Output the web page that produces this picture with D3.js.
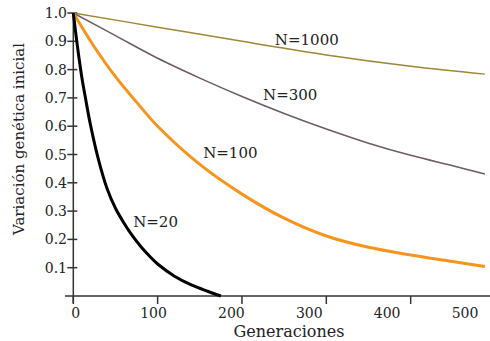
<!DOCTYPE html>
<html>
<head>
<meta charset="utf-8">
<script src="https://cdn.jsdelivr.net/npm/d3@7"></script>
<style>
  body { margin: 0; background: #fff; }
  text { font-family: "DejaVu Serif", serif; fill: #222; }
</style>
</head>
<body>
<script>
var width = 490, height = 341

// generations and remaining variation
var gen20 = [0, 5, 10, 15, 20, 30, 40, 50, 60, 70, 80, 90, 100, 120, 140, 160, 175]
var val20 = [1.0, 0.88, 0.775, 0.69, 0.61, 0.48, 0.38, 0.31, 0.258, 0.213, 0.175, 0.142, 0.113, 0.07, 0.039, 0.016, 0.0]
var gen100 = [0, 25, 50, 75, 100, 150, 200, 250, 300, 350, 400, 450, 488]
var val100 = [1.0, 0.88, 0.775, 0.685, 0.60, 0.465, 0.36, 0.275, 0.212, 0.172, 0.145, 0.122, 0.104]
var gen300 = [0, 50, 100, 150, 200, 250, 300, 350, 400, 450, 488]
var val300 = [1.0, 0.92, 0.84, 0.77, 0.705, 0.645, 0.59, 0.54, 0.497, 0.46, 0.431]
var gen1000 = [0, 100, 200, 300, 400, 488]
var val1000 = [1.0, 0.95, 0.90, 0.852, 0.812, 0.784]

var xTicks = [0, 100, 200, 300, 400, 500]
var yTicks = [0.1, 0.2, 0.3, 0.4, 0.5, 0.6, 0.7, 0.8, 0.9, 1.0]

var svg = d3.select("body").append("svg")
    .attr("width", width).attr("height", height)

var x = d3.scaleLinear().domain([0, 500]).range([73.3, 495])
// tick labels in the original sit on a slightly tighter spacing than the tick marks
var xLabel = d3.scaleLinear().domain([0, 500]).range([75.7, 465])
var y = d3.scaleLinear().domain([0, 1]).range([296, 13])

// axes
svg.append("line")
    .attr("x1", 65).attr("x2", width)
    .attr("y1", y(0)).attr("y2", y(0))
    .attr("stroke", "#333").attr("stroke-width", 1.5)
svg.append("line")
    .attr("x1", x(0)).attr("x2", x(0))
    .attr("y1", y(1)).attr("y2", y(0) + 7)
    .attr("stroke", "#333").attr("stroke-width", 1.5)

svg.append("g").selectAll("line").data(xTicks).enter().append("line")
    .attr("x1", d => x(d)).attr("x2", d => x(d))
    .attr("y1", y(0)).attr("y2", y(0) + 8)
    .attr("stroke", "#333").attr("stroke-width", 1.5)
svg.append("g").selectAll("text").data(xTicks).enter().append("text")
    .attr("x", d => xLabel(d)).attr("y", 318)
    .attr("text-anchor", "middle").style("font-size", "14px")
    .text(d => d)

svg.append("g").selectAll("line").data(yTicks).enter().append("line")
    .attr("x1", x(0) - 6).attr("x2", x(0) + 4)
    .attr("y1", d => y(d)).attr("y2", d => y(d))
    .attr("stroke", "#333").attr("stroke-width", 1.5)
svg.append("g").selectAll("text").data(yTicks).enter().append("text")
    .attr("x", 67).attr("y", d => y(d) + 5)
    .attr("text-anchor", "end").style("font-size", "14px")
    .text(d => d.toFixed(1))

svg.append("text")
    .attr("x", 289).attr("y", 337)
    .attr("text-anchor", "middle").style("font-size", "16px")
    .text("Generaciones")
svg.append("text")
    .attr("transform", "translate(24,139) rotate(-90)")
    .attr("text-anchor", "middle").style("font-size", "15px")
    .text("Variación genética inicial")

// curves
var line = d3.line()
    .x(d => x(d[0])).y(d => y(d[1]))
    .curve(d3.curveCatmullRom.alpha(0.5))

var series = [
    {gen: gen1000, val: val1000, color: "#9c8836", w: 1.5},
    {gen: gen300, val: val300, color: "#6e5b65", w: 1.5},
    {gen: gen100, val: val100, color: "#f7941d", w: 3},
    {gen: gen20, val: val20, color: "#000", w: 3}
]
series.forEach(function(s) {
    svg.append("path")
        .datum(d3.zip(s.gen, s.val))
        .attr("d", line)
        .attr("fill", "none")
        .attr("stroke", s.color)
        .attr("stroke-width", s.w)
})

// line labels
var notes = [
    {t: "N=1000", g: 239, v: 0.887},
    {t: "N=300", g: 225, v: 0.693},
    {t: "N=100", g: 154, v: 0.488},
    {t: "N=20", g: 71, v: 0.244}
]
svg.append("g").selectAll("text").data(notes).enter().append("text")
    .attr("x", d => x(d.g)).attr("y", d => y(d.v))
    .style("font-size", "15px")
    .text(d => d.t)
</script>
</body>
</html>
